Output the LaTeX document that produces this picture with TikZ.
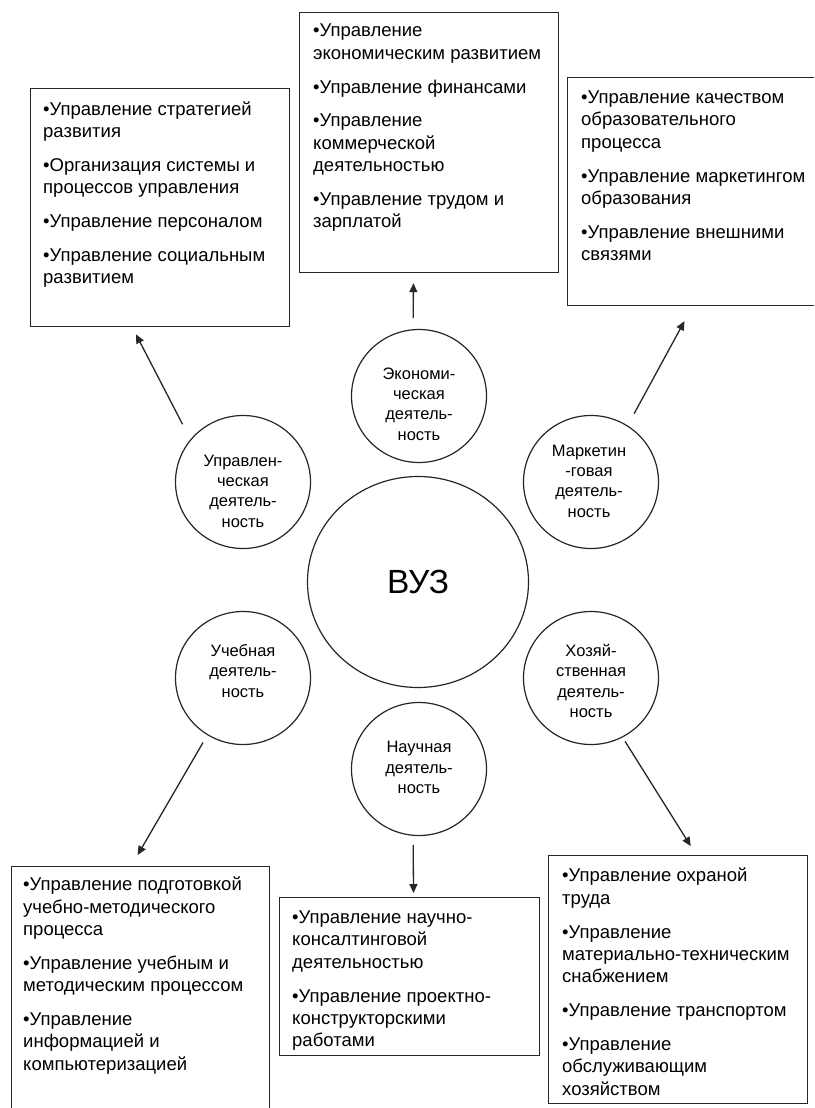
\documentclass[tikz,border=0pt]{standalone}
\usepackage{fontspec}
\setmainfont{Liberation Sans}
\usetikzlibrary{shapes.geometric,arrows.meta,calc}
\newcommand\fst{\rule{0pt}{15.6pt}}
\tikzset{
  ln/.style={draw=black!85, line width=1.2pt},
  box/.style={ln, rectangle, inner sep=0pt, anchor=north west},
  btext/.style={anchor=north west, inner sep=0pt, align=left, font=\fontsize{18.5}{22.4}\selectfont},
  circ/.style={ln, ellipse, inner sep=0pt, minimum width=135pt, minimum height=133pt},
  ctext/.style={inner sep=0pt, align=center, font=\fontsize{16.5}{20.3}\selectfont},
  arr/.style={draw=black!85, line width=1.3pt, -{Triangle[length=9pt,width=8pt]}}
}
\begin{document}
\begin{tikzpicture}[x=1pt,y=-1pt]
\useasboundingbox (0,0) rectangle (814,1108);
\clip (0,0) rectangle (814,1108);
\fill[white] (0,0) rectangle (814,1108);
% boxes
\node[box, minimum width=259pt, minimum height=238pt] (b1) at (30,88) {};
\node[box, minimum width=259pt, minimum height=260pt] (b2) at (299,12) {};
\node[box, minimum width=253pt, minimum height=228pt] (b3) at (567,77) {};
\node[box, minimum width=258pt, minimum height=260pt] (b4) at (11,866) {};
\node[box, minimum width=260pt, minimum height=158pt] (b5) at (279,897) {};
\node[box, minimum width=259pt, minimum height=248pt] (b6) at (548,855) {};
% box texts
\node[btext] (t1) at (43,99.4) {\fst•Управление стратегией\\развития\\[11.3pt]•Организация системы и\\процессов управления\\[11.3pt]•Управление персоналом\\[11.3pt]•Управление социальным\\развитием};
\node[btext] (t2) at (313,21.1) {\fst•Управление\\экономическим развитием\\[11.3pt]•Управление финансами\\[11.3pt]•Управление\\коммерческой\\деятельностью\\[11.3pt]•Управление трудом и\\зарплатой};
\node[btext] (t3) at (581,87.7) {\fst•Управление качеством\\образовательного\\процесса\\[11.3pt]•Управление маркетингом\\образования\\[11.3pt]•Управление внешними\\связями};
\node[btext] (t4) at (23,875.1) {\fst•Управление подготовкой\\учебно-методического\\процесса\\[11.3pt]•Управление учебным и\\методическим процессом\\[11.3pt]•Управление\\информацией и\\компьютеризацией};
\node[btext] (t5) at (292,907.7) {\fst•Управление научно-\\консалтинговой\\деятельностью\\[11.3pt]•Управление проектно-\\конструкторскими\\работами};
\node[btext] (t6) at (562,866.1) {\fst•Управление охраной\\труда\\[11.3pt]•Управление\\материально-техническим\\снабжением\\[11.3pt]•Управление транспортом\\[11.3pt]•Управление\\обслуживающим\\хозяйством};
% circles
\node[ln, ellipse, inner sep=0pt, minimum width=221pt, minimum height=211pt, font=\fontsize{33.5}{40}\selectfont] (vuz) at (418,582) {ВУЗ};
\node[circ] (c1) at (243,482) {};
\node[circ] (c2) at (419,396) {};
\node[circ] (c3) at (591,482) {};
\node[circ] (c4) at (243,678) {};
\node[circ] (c5) at (419,769) {};
\node[circ] (c6) at (591,678) {};
\node[ctext] (c1t) at (243,491) {Управлен-\\ческая\\деятель-\\ность};
\node[ctext] (c2t) at (419,404) {Экономи-\\ческая\\деятель-\\ность};
\node[ctext] (c3t) at (589,481) {Маркетин\\-говая\\деятель-\\ность};
\node[ctext] (c4t) at (243,671) {Учебная\\деятель-\\ность};
\node[ctext] (c5t) at (419,767.5) {Научная\\деятель-\\ность};
\node[ctext] (c6t) at (591,681) {Хозяй-\\ственная\\деятель-\\ность};
% arrows
\draw[arr, shorten <=17pt, shorten >=8pt] (c1.141) -- ($(b1.south west)!0.393!(b1.south east)$);
\draw[arr, shorten <=11pt, shorten >=10pt] (c2.95) -- ($(b2.south west)!0.44!(b2.south east)$);
\draw[arr, shorten <=13.5pt, shorten >=17pt] (c3.57) -- ($(b3.south west)!0.494!(b3.south east)$);
\draw[arr, shorten <=8.5pt, shorten >=12.7pt] (c4.238) -- ($(b4.north west)!0.464!(b4.north east)$);
\draw[arr, shorten <=9pt, shorten >=4pt] (c5.265) -- ($(b5.north west)!0.515!(b5.north east)$);
\draw[arr, shorten <=4.6pt, shorten >=10.5pt] (c6.298) -- ($(b6.north west)!0.57!(b6.north east)$);
\end{tikzpicture}
\end{document}
